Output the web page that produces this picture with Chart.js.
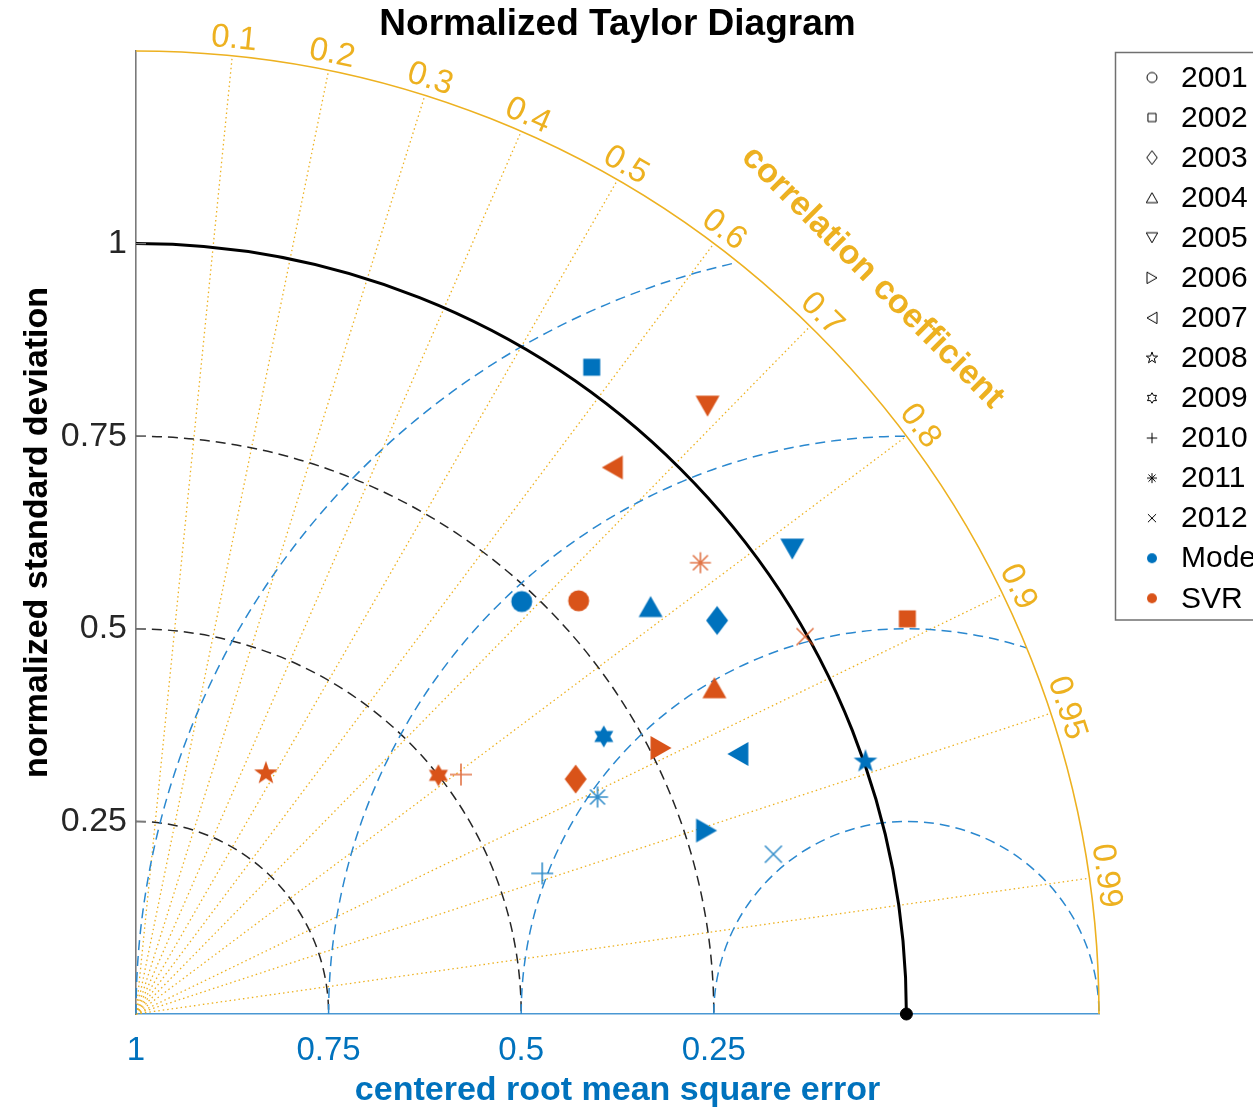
<!DOCTYPE html>
<html>
<head>
<meta charset="utf-8">
<script src="https://cdn.jsdelivr.net/npm/chart.js@4.4.1/dist/chart.umd.min.js"></script>
<style>
  html, body { margin: 0; padding: 0; background: #fff; overflow: hidden; }
  #wrap { position: relative; width: 1300px; height: 1111px; }
</style>
</head>
<body>
<div id="wrap"><canvas id="taylor" width="1300" height="1111"></canvas></div>
<script>
// values: normalized std and correlation per year
const years = ['2001', '2002', '2003', '2004', '2005', '2006', '2007', '2008', '2009', '2010', '2011', '2012'];
const markerShapes = ['circle', 'square', 'diamond', 'triUp', 'triDown', 'triRight', 'triLeft', 'pentagram', 'hexagram', 'plus', 'asterisk', 'cross'];
const seriesNames = ['Model', 'SVR'];
const modelStd = [0.733, 1.027, 0.911, 0.852, 1.044, 0.778, 0.851, 1.002, 0.706, 0.558, 0.662, 0.853];
const modelCorr = [0.683, 0.576, 0.828, 0.784, 0.816, 0.952, 0.918, 0.945, 0.860, 0.945, 0.905, 0.970];
const svrStd = [0.786, 1.125, 0.647, 0.862, 1.083, 0.764, 0.941, 0.355, 0.500, 0.524, 0.938, 0.997];
const svrCorr = [0.731, 0.890, 0.882, 0.871, 0.685, 0.892, 0.657, 0.475, 0.785, 0.805, 0.781, 0.871];
const refStd = 1;
const maxStd = 1.25;
const stdTicks = [0.25, 0.5, 0.75, 1];
const rmseTicks = [1, 0.75, 0.5, 0.25];
const stdArcs = [0.25, 0.5, 0.75];
const rmseArcs = [0.25, 0.5, 0.75, 1];
const corrTicks = [0.1, 0.2, 0.3, 0.4, 0.5, 0.6, 0.7, 0.8, 0.9, 0.95, 0.99];

const BLUE = '#0072BD';
const RED = '#D95319';
const GOLD = '#EDB120';
const FONT = '"Liberation Sans", Arial, Helvetica, sans-serif';
const lineShapes = ['plus', 'cross', 'asterisk'];

function drawShape(g, shape, k) {
  const poly = pts => {
    g.moveTo(pts[0][0] * k, pts[0][1] * k);
    pts.slice(1).forEach(p => g.lineTo(p[0] * k, p[1] * k));
    g.closePath();
  };
  const star = (n, ro, ri) => {
    const pts = [];
    for (let i = 0; i < 2 * n; i++) {
      const r = i % 2 ? ri : ro;
      const a = -Math.PI / 2 + i * Math.PI / n;
      pts.push([r * Math.cos(a), r * Math.sin(a)]);
    }
    poly(pts);
  };
  const seg = (x1, y1, x2, y2) => { g.moveTo(x1 * k, y1 * k); g.lineTo(x2 * k, y2 * k); };
  switch (shape) {
    case 'circle': g.arc(0, 0, 10.5 * k, 0, Math.PI * 2); break;
    case 'square': g.rect(-8.5 * k, -8.5 * k, 17 * k, 17 * k); break;
    case 'diamond': poly([[0, -14.5], [11, 0], [0, 14.5], [-11, 0]]); break;
    case 'triUp': poly([[0, -10.5], [12, 10.5], [-12, 10.5]]); break;
    case 'triDown': poly([[0, 10.5], [12, -10.5], [-12, -10.5]]); break;
    case 'triRight': poly([[10.5, 0], [-10.5, 12], [-10.5, -12]]); break;
    case 'triLeft': poly([[-10.5, 0], [10.5, 12], [10.5, -12]]); break;
    case 'pentagram': star(5, 12.5, 5); break;
    case 'hexagram': star(6, 11, 6.35); break;
    case 'plus': seg(-11, 0, 11, 0); seg(0, -11, 0, 11); break;
    case 'cross': seg(-8.5, -8.5, 8.5, 8.5); seg(-8.5, 8.5, 8.5, -8.5); break;
    case 'asterisk':
      seg(-10.5, 0, 10.5, 0); seg(0, -10.5, 0, 10.5);
      seg(-7.5, -7.5, 7.5, 7.5); seg(-7.5, 7.5, 7.5, -7.5);
      break;
  }
}

function markerImage(shape, color, size, filled) {
  const k = size / 21;
  let S = Math.ceil(34 * k) + 4;
  if (S % 2) S++;
  const c = document.createElement('canvas');
  c.width = S; c.height = S;
  const g = c.getContext('2d');
  g.translate(S / 2, S / 2);
  g.fillStyle = color;
  g.strokeStyle = color;
  g.beginPath();
  drawShape(g, shape, k);
  if (lineShapes.includes(shape)) {
    g.globalAlpha = filled ? 0.8 : 1;
    g.lineWidth = filled ? 1.6 : 1;
    g.stroke();
  } else if (filled) {
    g.fill();
  } else {
    g.lineWidth = 1;
    g.stroke();
  }
  return c;
}

const toXY = (s, c) => ({ x: s * c, y: s * Math.sqrt(1 - c * c) });
const modelPoints = modelStd.map((s, i) => toXY(s, modelCorr[i]));
const svrPoints = svrStd.map((s, i) => toXY(s, svrCorr[i]));

const taylorGrid = {
  id: 'taylorGrid',
  beforeDatasetsDraw(chart) {
    const { ctx, scales: { x, y } } = chart;
    const ox = x.getPixelForValue(0);
    const oy = y.getPixelForValue(0);
    const unit = x.getPixelForValue(1) - ox;
    const refX = x.getPixelForValue(refStd);
    ctx.save();

    // correlation rays
    ctx.strokeStyle = GOLD;
    ctx.lineWidth = 1.3;
    ctx.setLineDash([1.5, 3]);
    corrTicks.forEach(c => {
      const a = Math.acos(c);
      ctx.beginPath();
      ctx.moveTo(ox, oy);
      ctx.lineTo(ox + Math.cos(a) * maxStd * unit, oy - Math.sin(a) * maxStd * unit);
      ctx.stroke();
    });

    // std arcs
    ctx.strokeStyle = '#262626';
    ctx.lineWidth = 1.5;
    ctx.setLineDash([10, 6]);
    stdArcs.forEach(r => {
      ctx.beginPath();
      ctx.arc(ox, oy, r * unit, -Math.PI / 2, 0);
      ctx.stroke();
    });

    // rmse arcs around the reference point
    ctx.strokeStyle = '#2a88cf';
    rmseArcs.forEach(R => {
      const xi = (maxStd * maxStd + refStd * refStd - R * R) / (2 * refStd);
      let a1 = 0;
      if (xi < maxStd) {
        const yi = Math.sqrt(maxStd * maxStd - xi * xi);
        a1 = Math.atan2(yi, xi - refStd);
      }
      ctx.beginPath();
      ctx.arc(refX, oy, R * unit, -Math.PI, -a1);
      ctx.stroke();
    });

    // outer arc
    ctx.setLineDash([]);
    ctx.strokeStyle = GOLD;
    ctx.lineWidth = 1.6;
    ctx.beginPath();
    ctx.arc(ox, oy, maxStd * unit, -Math.PI / 2, 0);
    ctx.stroke();

    // reference std arc
    ctx.strokeStyle = '#000';
    ctx.lineWidth = 3;
    ctx.beginPath();
    ctx.arc(ox, oy, refStd * unit, -Math.PI / 2, 0);
    ctx.stroke();

    // inner ticks on the std axis
    ctx.strokeStyle = '#7a7a7a';
    ctx.lineWidth = 1.3;
    stdTicks.forEach(v => {
      const py = y.getPixelForValue(v);
      ctx.beginPath();
      ctx.moveTo(ox, py);
      ctx.lineTo(ox + 10, py);
      ctx.stroke();
    });

    // correlation labels
    ctx.fillStyle = GOLD;
    ctx.textAlign = 'center';
    ctx.textBaseline = 'middle';
    ctx.font = '33px ' + FONT;
    corrTicks.forEach(c => {
      const a = Math.acos(c);
      const r = 1.272 * unit;
      ctx.save();
      ctx.translate(ox + Math.cos(a) * r, oy - Math.sin(a) * r);
      ctx.rotate(Math.PI / 2 - a);
      ctx.fillText(String(c), 0, 0);
      ctx.restore();
    });
    ctx.font = 'bold 34px ' + FONT;
    const rc = 1.352 * unit;
    ctx.save();
    ctx.translate(ox + Math.cos(Math.PI / 4) * rc, oy - Math.sin(Math.PI / 4) * rc);
    ctx.rotate(Math.PI / 4);
    ctx.fillText('correlation coefficient', 0, 0);
    ctx.restore();

    ctx.restore();
  },
  afterDraw(chart) {
    const { ctx, chartArea } = chart;
    ctx.save();
    // title
    ctx.fillStyle = '#000';
    ctx.textAlign = 'center';
    ctx.textBaseline = 'middle';
    ctx.font = 'bold 37px ' + FONT;
    ctx.fillText('Normalized Taylor Diagram', (chartArea.left + chartArea.right) / 2, 25);

    // legend
    ctx.strokeStyle = '#707070';
    ctx.lineWidth = 1.5;
    ctx.strokeRect(1115.5, 52.5, 300, 567.5);
    const items = years.map((yr, i) => ({ text: yr, img: markerImage(markerShapes[i], '#000', 10, false) }))
      .concat([
        { text: seriesNames[0], img: markerImage('circle', BLUE, 10, true) },
        { text: seriesNames[1], img: markerImage('circle', RED, 10, true) }
      ]);
    ctx.font = '30px ' + FONT;
    ctx.textAlign = 'left';
    items.forEach((it, i) => {
      const cy = 78.5 + i * 40.06;
      ctx.drawImage(it.img, 1152 - it.img.width / 2, cy - 1 - it.img.height / 2);
      ctx.fillStyle = '#000';
      ctx.fillText(it.text, 1181, cy);
    });
    ctx.restore();
  }
};

new Chart(document.getElementById('taylor'), {
  type: 'scatter',
  data: {
    datasets: [
      {
        label: seriesNames[0],
        data: modelPoints,
        pointStyle: markerShapes.map(s => markerImage(s, BLUE, 21, true)),
        pointRadius: 10,
        clip: false
      },
      {
        label: seriesNames[1],
        data: svrPoints,
        pointStyle: markerShapes.map(s => markerImage(s, RED, 21, true)),
        pointRadius: 10,
        clip: false
      },
      {
        label: 'reference',
        data: [{ x: refStd, y: 0 }],
        pointStyle: 'circle',
        pointRadius: 6,
        backgroundColor: '#000',
        borderColor: '#000',
        clip: false
      }
    ]
  },
  options: {
    responsive: false,
    animation: false,
    events: [],
    layout: { padding: { left: 0, top: 51, right: 201, bottom: 0 } },
    plugins: { legend: { display: false }, title: { display: false }, tooltip: { enabled: false } },
    scales: {
      x: {
        type: 'linear',
        min: 0,
        max: maxStd,
        afterBuildTicks: axis => { axis.ticks = rmseTicks.map(v => ({ value: refStd - v })); },
        afterFit: axis => { axis.height = 97; },
        grid: { display: false, drawTicks: false },
        border: { display: true, color: '#4a98d3', width: 1.6 },
        ticks: {
          autoSkip: false,
          maxRotation: 0,
          padding: 17,
          color: BLUE,
          font: { family: FONT, size: 33 },
          callback: v => String(+(refStd - v).toFixed(2))
        },
        title: {
          display: true,
          text: 'centered root mean square error',
          color: BLUE,
          font: { family: FONT, size: 34, weight: 'bold' },
          padding: { top: 0, bottom: 0 }
        }
      },
      y: {
        type: 'linear',
        min: 0,
        max: maxStd,
        afterBuildTicks: axis => { axis.ticks = stdTicks.map(v => ({ value: v })); },
        afterFit: axis => { axis.width = 136; },
        grid: { display: false, drawTicks: false },
        border: { display: true, color: '#7a7a7a', width: 1.6 },
        ticks: {
          autoSkip: false,
          padding: 9,
          color: '#262626',
          font: { family: FONT, size: 34 },
          callback: v => String(v)
        },
        title: {
          display: true,
          text: 'normalized standard deviation',
          color: '#000',
          font: { family: FONT, size: 34, weight: 'bold' },
          padding: { top: 17, bottom: 0 }
        }
      }
    }
  },
  plugins: [taylorGrid]
});
</script>
</body>
</html>
